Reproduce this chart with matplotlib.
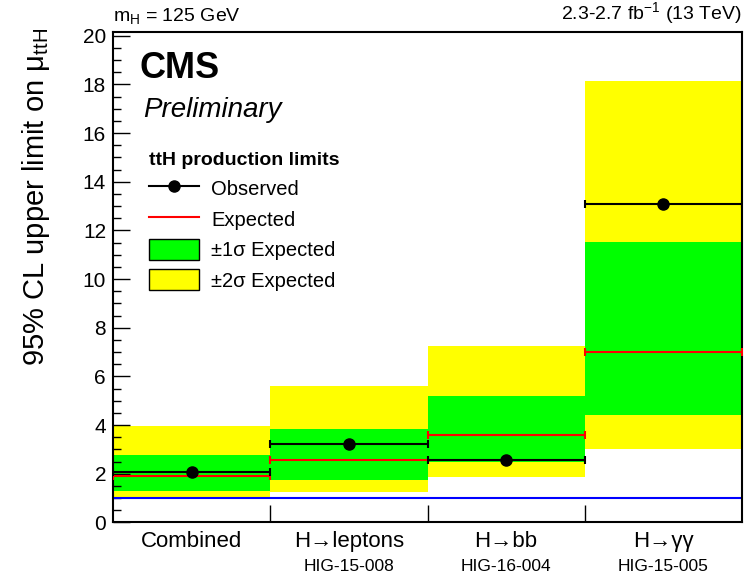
import matplotlib
matplotlib.use('Agg')
import matplotlib.pyplot as plt
import numpy as np
from matplotlib.lines import Line2D
from matplotlib.patches import Patch
from matplotlib.ticker import MultipleLocator

plt.rcParams['font.family'] = ['Liberation Sans', 'DejaVu Sans']

# channels and limits
channels = ['Combined', 'H\u2192leptons', 'H\u2192bb', 'H\u2192\u03b3\u03b3']
notes = ['', 'HIG-15-008', 'HIG-16-004', 'HIG-15-005']
observed = [2.07, 3.22, 2.57, 13.07]
expected = [1.91, 2.58, 3.59, 7.0]
band1_lo = [1.30, 1.76, 2.47, 4.41]
band1_hi = [2.77, 3.84, 5.21, 11.53]
band2_lo = [1.06, 1.27, 1.88, 3.00]
band2_hi = [3.97, 5.62, 7.26, 18.14]

x = np.arange(len(channels))
centers = x + 0.5

fig = plt.figure(figsize=(7.5, 5.76), dpi=100)
ax = fig.add_axes([0.1507, 0.0929, 0.8386, 0.8515])

ax.bar(x, np.array(band2_hi) - np.array(band2_lo), bottom=band2_lo, width=1.0,
       align='edge', color='#ffff00', linewidth=0)
ax.bar(x, np.array(band1_hi) - np.array(band1_lo), bottom=band1_lo, width=1.0,
       align='edge', color='#00ff00', linewidth=0)
ax.axhline(1.0, color='#0000ff', lw=1.5)

ax.errorbar(centers, expected, xerr=0.5, fmt='none', ecolor='red', elinewidth=1.5,
            capsize=3, capthick=1.5, zorder=4)
ax.errorbar(centers, observed, xerr=0.5, fmt='o', color='black', ms=8,
            elinewidth=1.5, capsize=3, capthick=1.5, zorder=5)

ax.set_xlim(0, 4)
ax.set_ylim(0, 20.15)
ax.yaxis.set_major_locator(MultipleLocator(2))
ax.yaxis.set_minor_locator(MultipleLocator(0.5))
ax.tick_params(axis='y', which='major', direction='in', length=12, width=1,
               labelsize=15, right=False, pad=5)
ax.tick_params(axis='y', which='minor', direction='in', length=6, width=1, right=False)
ax.set_xticks([1, 2, 3])
ax.set_xticklabels([])
ax.tick_params(axis='x', which='major', direction='in', length=12, width=1, top=False)
ax.set_xticks(centers, minor=True)
ax.set_xticklabels(channels, minor=True, fontsize=16)
ax.tick_params(axis='x', which='minor', length=0, pad=6)
for s in ax.spines.values():
    s.set_linewidth(1.5)

for c, n in zip(centers, notes):
    ax.text(c, -0.074, n, transform=ax.get_xaxis_transform(), ha='center',
            va='top', fontsize=12.5)

ax.set_ylabel('95% CL upper limit on $\\mathregular{\\mu_{ttH}}$', fontsize=21)
ax.yaxis.set_label_coords(-0.097, 1.008)
ax.yaxis.label.set_ha('right')

fig.text(0.1507, 0.955, '$\\mathregular{m_H}$ = 125 GeV', fontsize=14, ha='left', va='bottom')
fig.text(0.9893, 0.955, '2.3-2.7 fb$\\mathregular{^{-1}}$ (13 TeV)', fontsize=14,
         ha='right', va='bottom')

ax.text(0.042, 0.962, 'CMS', transform=ax.transAxes, fontsize=26, fontweight='bold',
        va='top')
ax.text(0.048, 0.868, 'Preliminary', transform=ax.transAxes, fontsize=20,
        style='italic', va='top')

handles = [
    Line2D([], [], color='black', marker='o', ms=8, lw=1.5),
    Line2D([], [], color='red', lw=1.5),
    Patch(facecolor='#00ff00', edgecolor='black', lw=1),
    Patch(facecolor='#ffff00', edgecolor='black', lw=1),
]
labels = ['Observed', 'Expected', '\u00b11\u03c3 Expected', '\u00b12\u03c3 Expected']
leg = ax.legend(handles, labels, loc='upper left', bbox_to_anchor=(0.028, 0.793),
                frameon=False, fontsize=14.5, handlelength=2.5, handleheight=1.25,
                labelspacing=0.45, handletextpad=0.6, title='ttH production limits',
                title_fontproperties={'weight': 'bold', 'size': 14})
leg._legend_box.align = 'left'

fig.savefig('out.png', dpi=100)
